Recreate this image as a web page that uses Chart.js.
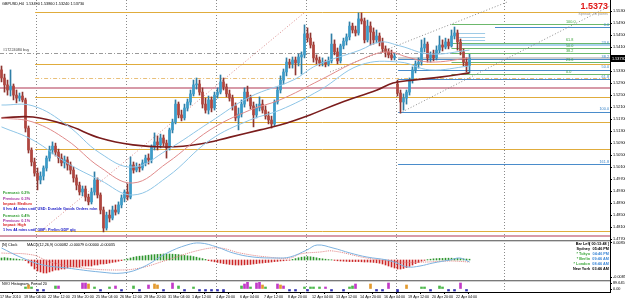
<!DOCTYPE html>
<html>
<head>
<meta charset="utf-8">
<title>GBPUSD,H4</title>
<script src="https://cdn.jsdelivr.net/npm/chart.js@4.4.1/dist/chart.umd.min.js"></script>
<style>
  body { margin: 0; background: #fff; }
  #wrap { position: relative; width: 625px; height: 301px; overflow: hidden; }
  canvas { position: absolute; left: 0; }
</style>
</head>
<body>
<div id="wrap">
  <canvas id="main" width="625" height="240" style="top:0px"></canvas>
  <canvas id="macd" width="625" height="40" style="top:240px"></canvas>
  <canvas id="nvo" width="625" height="21" style="top:280px"></canvas>
</div>
<script>
// GBPUSD H4 candles, 17 Mar - 22 Apr 2010
const opens = [
  1.5334,1.5307,1.5284,1.5267,1.5280,1.5250,1.5240,1.5247,1.5234,1.5140,
  1.5067,1.5027,1.4990,1.4967,1.4980,1.5007,1.5040,1.5067,1.5080,1.5060,
  1.5040,1.5024,1.5034,1.5017,1.5000,1.4974,1.4950,1.4927,1.4937,1.4910,
  1.4894,1.4927,1.4967,1.4917,1.4867,1.4807,1.4850,1.4840,1.4867,1.4860,
  1.4884,1.4907,1.4927,1.4910,1.5017,1.5000,1.5010,1.5007,1.5024,1.5040,
  1.5034,1.5077,1.5094,1.5084,1.5107,1.5090,1.5074,1.5134,1.5160,1.5220,
  1.5184,1.5174,1.5207,1.5227,1.5254,1.5284,1.5287,1.5260,1.5220,1.5200,
  1.5234,1.5207,1.5250,1.5260,1.5294,1.5277,1.5254,1.5240,1.5214,1.5174,
  1.5187,1.5220,1.5260,1.5240,1.5214,1.5184,1.5207,1.5220,1.5200,1.5180,
  1.5167,1.5154,1.5227,1.5267,1.5300,1.5327,1.5360,1.5354,1.5367,1.5357,
  1.5377,1.5384,1.5454,1.5440,1.5417,1.5374,1.5367,1.5357,1.5360,1.5354,
  1.5364,1.5420,1.5394,1.5364,1.5414,1.5430,1.5444,1.5480,1.5467,1.5457,
  1.5504,1.5497,1.5434,1.5480,1.5460,1.5434,1.5447,1.5427,1.5404,1.5394,
  1.5384,1.5374,1.5287,1.5257,1.5227,1.5240,1.5260,1.5300,1.5334,1.5354,
  1.5360,1.5407,1.5420,1.5374,1.5384,1.5374,1.5400,1.5417,1.5410,1.5427,
  1.5414,1.5447,1.5457,1.5427,1.5394,1.5360,1.5349
];
const highs = [
  1.5347,1.5320,1.5300,1.5334,1.5287,1.5267,1.5257,1.5260,1.5240,1.5147,
  1.5074,1.5040,1.5007,1.4994,1.5014,1.5047,1.5080,1.5094,1.5090,1.5070,
  1.5054,1.5047,1.5044,1.5027,1.5010,1.4984,1.4960,1.4947,1.4947,1.4920,
  1.4940,1.4994,1.4974,1.4924,1.4877,1.4860,1.4867,1.4880,1.4884,1.4894,
  1.4917,1.4934,1.4954,1.5044,1.5027,1.5024,1.5020,1.5034,1.5050,1.5054,
  1.5084,1.5124,1.5114,1.5120,1.5117,1.5100,1.5140,1.5170,1.5234,1.5227,
  1.5200,1.5220,1.5237,1.5267,1.5300,1.5307,1.5300,1.5274,1.5240,1.5247,
  1.5244,1.5260,1.5274,1.5317,1.5307,1.5287,1.5267,1.5250,1.5224,1.5207,
  1.5234,1.5274,1.5280,1.5250,1.5227,1.5220,1.5244,1.5234,1.5214,1.5194,
  1.5180,1.5234,1.5277,1.5314,1.5337,1.5374,1.5370,1.5377,1.5377,1.5387,
  1.5394,1.5484,1.5474,1.5457,1.5427,1.5384,1.5377,1.5374,1.5367,1.5377,
  1.5454,1.5434,1.5407,1.5420,1.5440,1.5454,1.5494,1.5490,1.5480,1.5524,
  1.5524,1.5507,1.5500,1.5494,1.5474,1.5467,1.5457,1.5440,1.5414,1.5404,
  1.5400,1.5390,1.5300,1.5267,1.5254,1.5267,1.5307,1.5344,1.5364,1.5374,
  1.5434,1.5440,1.5427,1.5394,1.5400,1.5414,1.5447,1.5434,1.5440,1.5437,
  1.5467,1.5477,1.5467,1.5437,1.5404,1.5374,1.5386
];
const lows = [
  1.5294,1.5260,1.5250,1.5247,1.5234,1.5224,1.5230,1.5227,1.5127,1.5057,
  1.5014,1.4980,1.4934,1.4954,1.4967,1.4997,1.5030,1.5054,1.5047,1.5024,
  1.5014,1.5007,1.5000,1.4987,1.4960,1.4934,1.4917,1.4914,1.4897,1.4884,
  1.4887,1.4917,1.4907,1.4854,1.4794,1.4800,1.4827,1.4834,1.4850,1.4854,
  1.4874,1.4894,1.4900,1.4904,1.4990,1.4994,1.4994,1.5000,1.5014,1.5020,
  1.5024,1.5067,1.5067,1.5074,1.5080,1.5040,1.5067,1.5124,1.5154,1.5174,
  1.5164,1.5167,1.5197,1.5217,1.5247,1.5270,1.5250,1.5207,1.5190,1.5187,
  1.5194,1.5200,1.5240,1.5254,1.5267,1.5244,1.5230,1.5200,1.5164,1.5134,
  1.5177,1.5210,1.5230,1.5204,1.5144,1.5174,1.5197,1.5190,1.5170,1.5154,
  1.5140,1.5147,1.5220,1.5257,1.5287,1.5314,1.5340,1.5340,1.5317,1.5347,
  1.5320,1.5374,1.5427,1.5407,1.5360,1.5354,1.5347,1.5347,1.5344,1.5347,
  1.5357,1.5384,1.5354,1.5357,1.5404,1.5417,1.5434,1.5457,1.5447,1.5450,
  1.5487,1.5424,1.5427,1.5417,1.5420,1.5424,1.5414,1.5394,1.5377,1.5374,
  1.5367,1.5367,1.5247,1.5190,1.5200,1.5220,1.5250,1.5290,1.5324,1.5340,
  1.5350,1.5394,1.5360,1.5360,1.5364,1.5367,1.5390,1.5397,1.5404,1.5404,
  1.5410,1.5437,1.5400,1.5384,1.5347,1.5327,1.5324
];
const closes = [
  1.5307,1.5284,1.5267,1.5280,1.5250,1.5240,1.5247,1.5234,1.5140,1.5067,
  1.5027,1.4990,1.4967,1.4980,1.5007,1.5040,1.5067,1.5080,1.5060,1.5040,
  1.5024,1.5034,1.5017,1.5000,1.4974,1.4950,1.4927,1.4937,1.4910,1.4894,
  1.4927,1.4967,1.4917,1.4867,1.4807,1.4850,1.4840,1.4867,1.4860,1.4884,
  1.4907,1.4927,1.4910,1.5017,1.5000,1.5010,1.5007,1.5024,1.5040,1.5034,
  1.5077,1.5094,1.5084,1.5107,1.5090,1.5074,1.5134,1.5160,1.5220,1.5184,
  1.5174,1.5207,1.5227,1.5254,1.5284,1.5287,1.5260,1.5220,1.5200,1.5234,
  1.5207,1.5250,1.5260,1.5294,1.5277,1.5254,1.5240,1.5214,1.5174,1.5187,
  1.5220,1.5260,1.5240,1.5214,1.5184,1.5207,1.5220,1.5200,1.5180,1.5167,
  1.5154,1.5227,1.5267,1.5300,1.5327,1.5360,1.5354,1.5367,1.5357,1.5377,
  1.5384,1.5454,1.5440,1.5417,1.5374,1.5367,1.5357,1.5360,1.5354,1.5364,
  1.5420,1.5394,1.5364,1.5414,1.5430,1.5444,1.5480,1.5467,1.5457,1.5504,
  1.5497,1.5434,1.5480,1.5460,1.5434,1.5447,1.5427,1.5404,1.5394,1.5384,
  1.5374,1.5380,1.5257,1.5227,1.5240,1.5260,1.5300,1.5334,1.5354,1.5360,
  1.5407,1.5420,1.5374,1.5384,1.5374,1.5400,1.5417,1.5410,1.5427,1.5414,
  1.5447,1.5457,1.5427,1.5394,1.5360,1.5347,1.5373
];

// price scale labels (right axis) and time labels (every 8 bars)
const priceTicks = [1.5530,1.5490,1.5450,1.5410,1.5370,1.5330,1.5290,1.5250,1.5210,1.5170,
                    1.5130,1.5090,1.5050,1.5010,1.4970,1.4930,1.4890,1.4850,1.4810,1.4770];
const dateLabels = ['17 Mar 2010','19 Mar 04:00','22 Mar 12:00','23 Mar 20:00','25 Mar 04:00',
  '26 Mar 12:00','29 Mar 20:00','31 Mar 04:00','1 Apr 12:00','4 Apr 20:00','6 Apr 04:00',
  '7 Apr 12:00','8 Apr 20:00','12 Apr 04:00','13 Apr 12:00','14 Apr 20:00','16 Apr 04:00',
  '19 Apr 12:00','20 Apr 20:00','22 Apr 04:00'];
const weekStarts = [12, 42, 72, 102, 132, 168];   // period separators (bar index)

// indicator lines: [bar, price]
const maSlow = [[0,1.5174],[10.5,1.5177],[21.8,1.5150],[32.8,1.5107],[43.8,1.5084],[55.2,1.5077],
  [66.2,1.5087],[76.2,1.5110],[86.2,1.5134],[92.8,1.5150],[102.8,1.5184],[112.8,1.5224],
  [125.2,1.5267],[130.5,1.5290],[137.2,1.5300],[146.2,1.5310],[156,1.5324]];
const bandUpper = [[0,1.5217],[10.5,1.5214],[21.8,1.5150],[32.8,1.5057],[43.8,1.5010],[55.2,1.5067],
  [69.5,1.5160],[82.8,1.5244],[97.2,1.5300],[105.2,1.5350],[119.5,1.5400],[126.2,1.5427],
  [132.8,1.5414],[142.8,1.5387],[156,1.5400]];
const bandMid = [[0,1.5174],[10.5,1.5160],[21.8,1.5100],[32.8,1.5010],[43.8,1.4957],[55.2,1.5024],
  [69.5,1.5134],[82.8,1.5200],[92.8,1.5234],[106.2,1.5300],[119.5,1.5367],[128.5,1.5394],
  [135.2,1.5377],[142.8,1.5360],[156,1.5374]];
const bandLower = [[0,1.5144],[10.5,1.5100],[21.8,1.5024],[32.8,1.4967],[43.8,1.4917],[55.2,1.4977],
  [69.5,1.5100],[82.8,1.5167],[92.8,1.5200],[106.2,1.5267],[119.5,1.5350],[132.8,1.5360],
  [142.8,1.5334],[156,1.5347]];

// horizontal objects on the chart
const goldLevels = [1.5527, 1.5354, 1.5244, 1.5160, 1.5070, 1.4797];
const pinkLevels = [1.5274, 1.4780];
const dashLevel = 1.5307;
const buyLevel = 1.5390;
const bidPrice = 1.5373;
const blueFibLevels = [1.5477, 1.5417, 1.5369, 1.5334, 1.5302, 1.5194, 1.5020];
const blueFibNames = ['0.0','23.6','38.2','50.0','61.8','100.0','161.8'];
const greenFibLevels = [1.5487, 1.5424, 1.5407, 1.5390, 1.5360, 1.5320];
const greenFibNames = ['100.0','61.8','50.0','38.2','23.6','0.0'];
const shortBlueLevels = [1.5457, 1.5444, 1.5434];
const pinkDiagonal = [[12.8, 1.4794], [101.2, 1.5527]];
const channelUpper = [[109.5, 1.5327], [168.5, 1.5560]];
const channelLower = [[132.8, 1.5190], [202.8, 1.5547]];

// MACD subwindow
const macdHist = [
  0.0010,0.0012,0.0010,0.0008,0.0006,0.0005,0.0003,0.0001,-0.0003,
  -0.0015,-0.0030,-0.0045,-0.0055,-0.0060,-0.0065,-0.0065,-0.0060,
  -0.0055,-0.0050,-0.0050,-0.0045,-0.0045,-0.0040,
  -0.0035,-0.0035,-0.0035,-0.0035,-0.0030,-0.0030,-0.0030,-0.0030,-0.0025,-0.0025,-0.0020,
  -0.0020,-0.0018,-0.0015,-0.0012,-0.0010,-0.0006,-0.0003,
  0.0002,0.0005,0.0010,0.0014,0.0017,0.0019,0.0020,0.0022,0.0024,0.0026,0.0027,0.0028,0.0029,0.0030,
  0.0030,0.0030,0.0029,0.0028,0.0027,0.0025,0.0023,0.0021,0.0020,0.0017,0.0014,0.0010,0.0007,0.0003,
  -0.0003,-0.0006,-0.0009,-0.0012,-0.0015,-0.0018,-0.0020,-0.0022,-0.0024,-0.0025,-0.0025,-0.0025,
  -0.0024,-0.0023,-0.0022,-0.0020,-0.0018,-0.0016,-0.0015,-0.0013,-0.0012,-0.0010,-0.0008,-0.0007,
  -0.0005,-0.0004,-0.0002,-0.0001,
  0.0003,0.0007,0.0011,0.0014,0.0016,0.0017,0.0016,0.0014,0.0011,0.0008,
  0.0006,0.0004,0.0002,0.0001,
  -0.0002,-0.0004,-0.0005,-0.0006,-0.0007,-0.0008,-0.0008,-0.0008,-0.0008,-0.0009,-0.0010,-0.0010,
  -0.0011,-0.0012,-0.0014,-0.0016,-0.0020,
  -0.0025,-0.0030,-0.0035,-0.0040,-0.0045,-0.0045,-0.0042,-0.0038,-0.0032,-0.0025,
  -0.0018,-0.0012,-0.0006,-0.0002,
  0.0002,0.0004,0.0006,0.0007,0.0008,0.0008,0.0009,0.0009,0.0009,0.0008,0.0008,0.0007,0.0006,0.0005,0.0004
];
const macdMain = [[0,0.0060],[6.2,0.0015],[13.8,-0.0025],[21.8,-0.0040],[32.8,-0.0060],[40.5,-0.0065],
  [47.2,-0.0035],[55.2,0.0035],[61.8,0.0075],[66.2,0.0085],[71.8,0.0065],[77.2,0.0035],[83.8,0.0015],
  [91.8,0.0010],[96.2,0.0015],[101.8,0.0050],[105.2,0.0075],[110.5,0.0060],[116.2,0.0035],
  [121.8,0.0015],[128.5,0.0000],[131.8,-0.0015],[135.2,-0.0035],[139.5,-0.0030],[143.8,-0.0015],
  [149.5,0.0000],[152.8,0.0010],[156,-0.0010]];
const macdSignal = [[0,0.0035],[10.5,0.0025],[16.2,-0.0010],[27.2,-0.0040],[38.5,-0.0050],[46.2,-0.0040],
  [55.2,0.0000],[66.2,0.0050],[72.8,0.0060],[79.5,0.0035],[88.5,0.0015],[96.2,0.0010],[99.5,0.0030],
  [106.2,0.0040],[110.5,0.0045],[121.8,0.0010],[132.8,-0.0010],[141.8,-0.0010],[149.5,-0.0005],
  [156,-0.0010]];
const macdTicks = [0.0085, -0.0085];

// NVO histogram subwindow
const nvoBar = [8,9,10,12,14,18,19,27,28,29,31,33,36,38,40,44,46,49,51,52,54,57,59,61,64,66,68,70,72,74,
  80,81,82,83,85,86,87,88,92,93,94,96,98,101,102,103,104,106,108,110,114,116,117,118,123,125,127,129,
  132,135,140,141,143,146,147,149,151,153,155];
const nvoVal = [30,60,30,-30,-30,45,45,90,90,75,30,-30,30,45,-30,45,-30,60,75,60,-30,90,45,-30,30,
  -30,-30,-30,-30,-45,45,75,105,30,90,105,60,30,75,60,45,-30,-30,30,-30,30,30,30,30,-30,-30,30,45,75,75,
  -30,-30,90,-45,60,30,30,-30,45,30,-30,-30,90,-30];
const nvoKind = 'gogbbgpppogbgpbgbpoobpgbgbbbbbgppgppogpopbbgbgggpbbggpobbpboggbggbbpb';
const nvoTicks = [89.645, 0];

const FONT = 'Liberation Sans';
Chart.defaults.font.family = FONT;
const tiny = { family: FONT, size: 3.8 };
const dateFont = { family: FONT, size: 3.7 };
const SMALL = '3.8px "Liberation Sans"';
const SMALL_BOLD = 'bold 3.8px "Liberation Sans"';
const X_MIN = -0.5, X_MAX = 202.83;
const kindColor = { g: '#4CB84C', o: '#E39A2E', p: '#C23AC8', b: '#3434B0' };
const toPts = arr => arr.map(p => ({ x: p[0], y: p[1] }));
const idx = opens.map((_, i) => i);
const isBull = i => closes[i] >= opens[i];

function line(ctx, x0, y0, x1, y1, color, w, dash) {
  ctx.beginPath();
  ctx.strokeStyle = color;
  ctx.lineWidth = w;
  ctx.setLineDash(dash || []);
  ctx.moveTo(x0, y0);
  ctx.lineTo(x1, y1);
  ctx.stroke();
  ctx.setLineDash([]);
}
function hline(ctx, x0, x1, y, color, w, dash) {
  const yy = Math.round(y) + (w % 2 === 1 ? 0.5 : 0);
  line(ctx, x0, yy, x1, yy, color, w, dash);
}
function text(ctx, s, x, y, color, align, font) {
  ctx.font = font || SMALL;
  ctx.fillStyle = color;
  ctx.textAlign = align || 'left';
  ctx.textBaseline = 'middle';
  ctx.fillText(s, x, y);
}
function separators(chart) {
  const { ctx, chartArea: a, scales: { x } } = chart;
  weekStarts.forEach(b => {
    const px = Math.round(x.getPixelForValue(b - 0.5)) + 0.5;
    line(ctx, px, a.top, px, a.bottom, '#8a8a8a', 1, [1, 2]);
  });
}
function panelFrame(chart) {
  const { ctx, chartArea: a } = chart;
  line(ctx, a.left, 0.5, a.right, 0.5, '#7a7a7a', 1);
  line(ctx, a.left, 1.5, a.right, 1.5, '#d0d0d0', 1);
}
function yAxisFit(s) { s.width = 15; s.paddingTop = 0; s.paddingBottom = 0; }

// ---------- main window ----------
const mainOverlay = {
  id: 'mainOverlay',
  beforeDatasetsDraw(chart) {
    const { ctx, chartArea: a, scales: { x, y } } = chart;
    ctx.save();
    separators(chart);
    const px = v => x.getPixelForValue(v);
    pinkLevels.forEach(p => hline(ctx, a.left, a.right, y.getPixelForValue(p), '#d79aa8', 2));
    goldLevels.forEach(p => hline(ctx, px(11.2), a.right, y.getPixelForValue(p), '#e0ac3c', 1));
    hline(ctx, px(11.2), a.right, y.getPixelForValue(dashLevel), '#e9c07a', 1, [4, 2, 1, 2]);
    hline(ctx, a.left, a.right, y.getPixelForValue(buyLevel), '#9a9a9a', 1, [4, 2, 1, 2]);
    hline(ctx, px(132.2), a.right, y.getPixelForValue(bidPrice), '#cfcfcf', 3);
    blueFibLevels.forEach((p, i) => {
      const start = i === 0 ? 164.5 : (i === 1 ? 152.8 : 132.2);
      const col = i === 1 ? '#a9d3ec' : '#4a8ccb';
      hline(ctx, px(start), a.right, y.getPixelForValue(p), col, i === 1 ? 2 : 1);
    });
    greenFibLevels.forEach(p => hline(ctx, px(150), a.right, y.getPixelForValue(p), '#6cb86c', 1));
    shortBlueLevels.forEach(p => hline(ctx, px(151.8), px(161.2), y.getPixelForValue(p), '#9fcbe6', 1));
    const diag = (pts, col) => line(ctx, px(pts[0][0]), y.getPixelForValue(pts[0][1]),
      px(pts[1][0]), y.getPixelForValue(pts[1][1]), col, 1, [1, 2]);
    diag(pinkDiagonal, '#d98a8a');
    diag(channelUpper, '#8c8c8c');
    diag(channelLower, '#8c8c8c');
    ctx.restore();
  },
  afterDatasetsDraw(chart) {
    const { ctx, scales: { y } } = chart;
    ctx.save();
    text(ctx, 'GBPUSD,H4  1.53490 1.53860 1.53240 1.53730', 2, 4, '#000');
    text(ctx, '#17224080 buy', 3, y.getPixelForValue(buyLevel) - 3, '#444');
    text(ctx, '1.5373', 608, 7, '#e01818', 'right', 'bold 9px "Liberation Sans"');
    text(ctx, 'Spread: 30 points', 608, 14, '#9a9a9a', 'right');
    blueFibLevels.forEach((p, i) => text(ctx, blueFibNames[i], 609, y.getPixelForValue(p) - 2.5, '#3a84c8', 'right'));
    greenFibLevels.forEach((p, i) => text(ctx, greenFibNames[i], 566, y.getPixelForValue(p) - 2.5, '#3ea43e'));
    const news = [
      ['Forecast: 0.2%', '#2a9a2a', 193], ['Previous: 0.3%', '#a02aa0', 199],
      ['Impact: Medium', '#d82020', 204], ['0 hrs 44 mins until USD: Durable Goods Orders m/m', '#2020c8', 209],
      ['Forecast: 0.4%', '#2a9a2a', 216], ['Previous: 0.1%', '#a02aa0', 221],
      ['Impact: High', '#d82020', 225], ['1 hrs 44 mins until GBP: Prelim GDP q/q', '#2020c8', 230]
    ];
    news.forEach(n => text(ctx, n[0], 3, n[2], n[1], 'left', SMALL_BOLD));
    ctx.restore();
  },
  afterDraw(chart) {
    const { ctx, chartArea: a, scales: { y } } = chart;
    const py = Math.round(y.getPixelForValue(bidPrice));
    ctx.save();
    ctx.fillStyle = '#000';
    ctx.fillRect(a.right + 1, py - 3, 14, 7);
    text(ctx, bidPrice.toFixed(5), a.right + 2, py + 0.5, '#fff');
    ctx.restore();
  }
};

new Chart(document.getElementById('main'), {
  type: 'bar',
  data: {
    datasets: [
      { type: 'line', data: toPts(bandUpper), borderColor: '#8ec5e6', borderWidth: 1, pointRadius: 0, tension: 0.4, order: 0 },
      { type: 'line', data: toPts(bandMid), borderColor: '#e08a8a', borderWidth: 1, pointRadius: 0, tension: 0.4, order: 0 },
      { type: 'line', data: toPts(bandLower), borderColor: '#8ec5e6', borderWidth: 1, pointRadius: 0, tension: 0.4, order: 0 },
      { type: 'line', data: toPts(maSlow), borderColor: '#7a1c1c', borderWidth: 1.6, pointRadius: 0, tension: 0.4, order: 0 },
      { data: idx.map(i => ({ x: i, y: [opens[i], closes[i]] })),
        backgroundColor: idx.map(i => isBull(i) ? '#3d9cc9' : '#b0463f'),
        barThickness: 2, minBarLength: 1, grouped: false, order: 1 },
      { data: idx.map(i => ({ x: i, y: [lows[i], highs[i]] })),
        backgroundColor: idx.map(i => isBull(i) ? '#2f7ea6' : '#8d3530'),
        barThickness: 1, grouped: false, order: 2 }
    ]
  },
  options: {
    responsive: false, animation: false, events: [],
    layout: { padding: 0 },
    plugins: { legend: { display: false }, tooltip: { enabled: false } },
    scales: {
      x: { type: 'linear', display: false, min: X_MIN, max: X_MAX, offset: false },
      y: {
        position: 'right', min: 1.4767, max: 1.5567,
        afterFit: yAxisFit,
        afterBuildTicks: s => { s.ticks = priceTicks.map(v => ({ value: v })); },
        ticks: { font: tiny, color: '#000', padding: 1, autoSkip: false, callback: v => v.toFixed(5) },
        grid: { drawOnChartArea: false, tickLength: 2, color: '#000' },
        border: { color: '#000' }
      }
    }
  },
  plugins: [mainOverlay]
});

// ---------- MACD window ----------
new Chart(document.getElementById('macd'), {
  type: 'bar',
  data: {
    datasets: [
      { type: 'line', data: toPts(macdMain), borderColor: '#7eb3e0', borderWidth: 1, pointRadius: 0, tension: 0.4, order: 0 },
      { type: 'line', data: toPts(macdSignal), borderColor: '#e07e7e', borderWidth: 1, borderDash: [1, 1], pointRadius: 0, tension: 0.4, order: 0 },
      { data: macdHist.map((v, i) => ({ x: i, y: v })),
        backgroundColor: macdHist.map(v => v >= 0 ? '#2e962e' : '#cc2626'),
        barThickness: 1, order: 1 }
    ]
  },
  options: {
    responsive: false, animation: false, events: [],
    layout: { padding: 0 },
    plugins: { legend: { display: false }, tooltip: { enabled: false } },
    scales: {
      x: { type: 'linear', display: false, min: X_MIN, max: X_MAX, offset: false },
      y: {
        position: 'right', min: -0.01, max: 0.01,
        afterFit: yAxisFit,
        afterBuildTicks: s => { s.ticks = macdTicks.map(v => ({ value: v })); },
        ticks: { font: tiny, color: '#000', padding: 1, autoSkip: false, callback: v => v.toFixed(6) },
        grid: { drawOnChartArea: false, tickLength: 2, color: '#000' },
        border: { color: '#000' }
      }
    }
  },
  plugins: [{
    id: 'macdOverlay',
    beforeDatasetsDraw(chart) { chart.ctx.save(); separators(chart); chart.ctx.restore(); },
    afterDraw(chart) {
      const ctx = chart.ctx;
      ctx.save();
      panelFrame(chart);
      text(ctx, '[N] Clock', 2, 5, '#000');
      text(ctx, 'MACD(12,26,9) 0.00082 -0.00079 0.00000 -0.00035', 27, 5, '#000');
      const rows = [
        ['Bar Left', '[ 00:13:48 ]', '#000', '#000'],
        ['Sydney', '05:46 PM', '#000', '#000'],
        ['* Tokyo', '04:46 PM', '#3aa63a', '#3a86d6'],
        ['* Berlin', '09:46 AM', '#3aa63a', '#3a86d6'],
        ['* London', '08:46 AM', '#3aa63a', '#3a86d6'],
        ['New York', '03:46 AM', '#000', '#000']
      ];
      rows.forEach((r, k) => {
        text(ctx, r[0], 590, 4 + 5 * k, r[2], 'right', SMALL_BOLD);
        text(ctx, r[1], 609, 4 + 5 * k, r[3], 'right', SMALL_BOLD);
      });
      ctx.restore();
    }
  }]
});

// ---------- NVO histogram window + time axis ----------
new Chart(document.getElementById('nvo'), {
  type: 'bar',
  data: {
    datasets: [
      { data: nvoBar.map((b, k) => ({ x: b, y: nvoVal[k] })),
        backgroundColor: nvoBar.map((b, k) => kindColor[nvoKind[k]]),
        barThickness: 2 }
    ]
  },
  options: {
    responsive: false, animation: false, events: [],
    layout: { padding: 0 },
    plugins: { legend: { display: false }, tooltip: { enabled: false } },
    scales: {
      x: {
        type: 'linear', min: X_MIN, max: X_MAX, offset: false,
        afterBuildTicks: s => { s.ticks = dateLabels.map((_, k) => ({ value: k * 8 - 0.5 })); },
        afterFit: s => { s.height = 9; s.paddingLeft = 0; s.paddingRight = 0; },
        ticks: { font: dateFont, color: '#000', align: 'start', maxRotation: 0, autoSkip: false, padding: 1,
                 callback: (v, i) => dateLabels[i] },
        grid: { drawOnChartArea: false, tickLength: 2, color: '#000' },
        border: { color: '#000' }
      },
      y: {
        position: 'right', min: -45, max: 135,
        afterFit: yAxisFit,
        afterBuildTicks: s => { s.ticks = nvoTicks.map(v => ({ value: v })); },
        ticks: { font: tiny, color: '#000', padding: 1, autoSkip: false, callback: v => v.toFixed(v ? 3 : 2) },
        grid: { drawOnChartArea: false, tickLength: 2, color: '#000' },
        border: { color: '#000' }
      }
    }
  },
  plugins: [{
    id: 'nvoOverlay',
    beforeDatasetsDraw(chart) { chart.ctx.save(); separators(chart); chart.ctx.restore(); },
    afterDraw(chart) {
      chart.ctx.save();
      panelFrame(chart);
      text(chart.ctx, 'NVO Histogram, Period 20', 2, 4, '#000');
      chart.ctx.restore();
    }
  }]
});
</script>
</body>
</html>
